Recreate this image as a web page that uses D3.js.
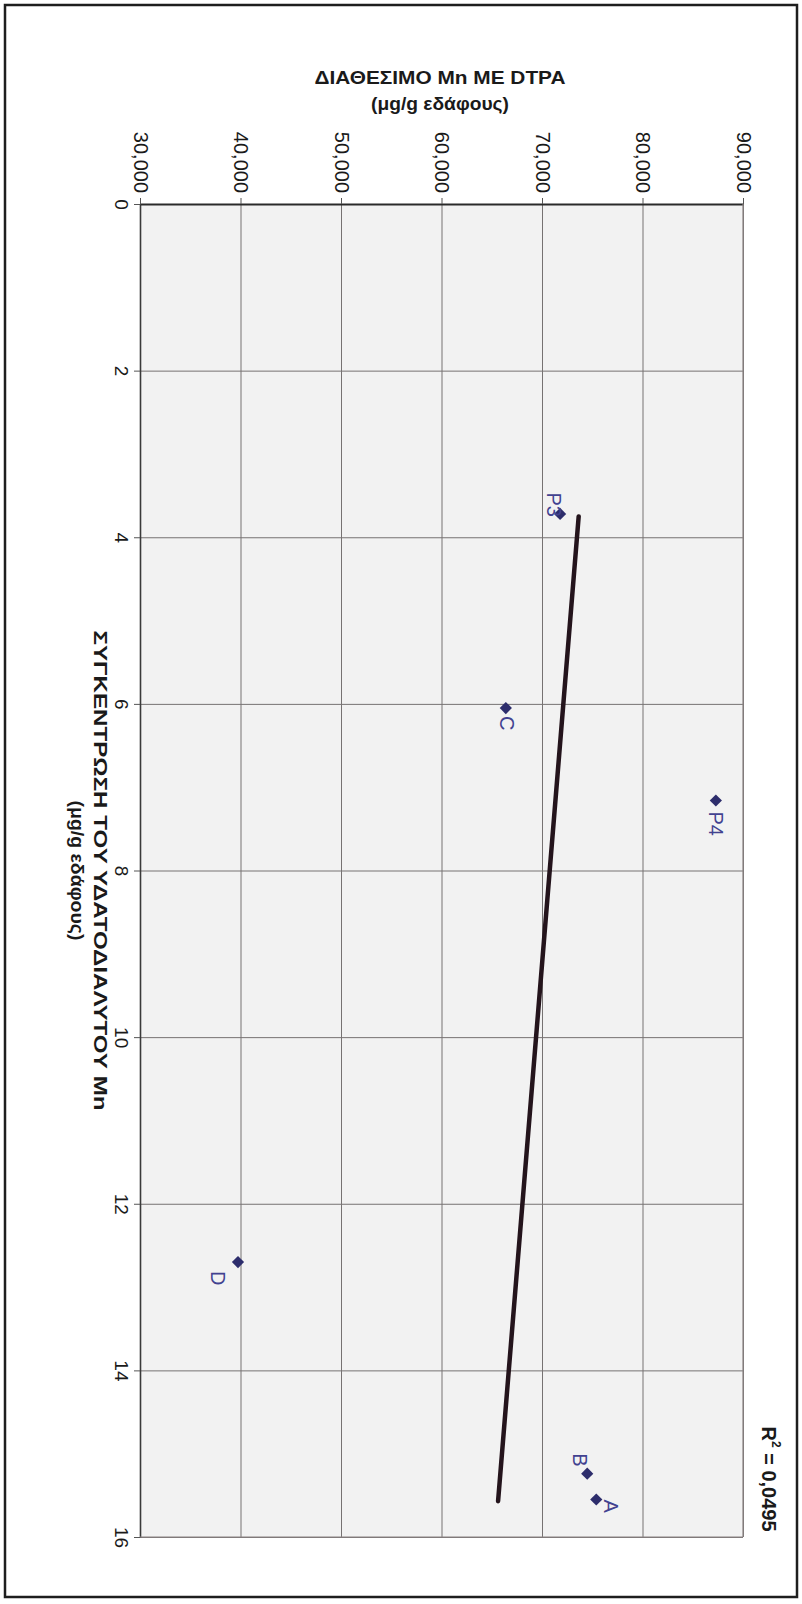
<!DOCTYPE html>
<html>
<head>
<meta charset="utf-8">
<script src="https://cdn.jsdelivr.net/npm/d3@7"></script>
<style>
  html, body { margin: 0; padding: 0; background: #ffffff; }
  svg { display: block; font-family: "Liberation Sans", Arial, sans-serif; }
</style>
</head>
<body>
<svg id="chart" width="802" height="1604"></svg>
<script>
// ---------- DATA ----------
const pointNames = ["P3", "C", "P4", "D", "B", "A"];
const waterSolubleMn = [3.72, 6.05, 7.16, 12.7, 15.24, 15.55];      // horizontal-axis values (drawn vertically)
const dtpaMn = [71800, 66400, 87300, 39750, 74500, 75400];          // vertical-axis values (drawn horizontally)
const trendConc = [3.75, 15.57];
const trendDtpa = [73650, 65630];
const concTicks = [0, 2, 4, 6, 8, 10, 12, 14, 16];
const concTickLabels = ["0", "2", "4", "6", "8", "10", "12", "14", "16"];
const dtpaTicks = [30000, 40000, 50000, 60000, 70000, 80000, 90000];
const dtpaTickLabels = ["30,000", "40,000", "50,000", "60,000", "70,000", "80,000", "90,000"];
const rSquaredText = "0,0495";
const dtpaTitle = ["ΔΙΑΘΕΣΙΜΟ Mn ME DTPA", "(μg/g εδάφους)"];
const concTitle = ["ΣΥΓΚΕΝΤΡΩΣΗ ΤΟΥ ΥΔΑΤΟΔΙΑΛΥΤΟΥ Mn", "(μg/g εδάφους)"];

// ---------- LAYOUT / STYLE ----------
const plot = { left: 140, right: 743, top: 204, bottom: 1537 };
const markerColor = "#2d2d6c";
const labelColor = "#424290";
// label offsets relative to the marker (image px); anchor along reading direction (downwards)
const labelPlace = {
  P3: { dx: -6, dy: 3, anchor: "end" },
  C:  { dx: 1,  dy: 8,  anchor: "start" },
  P4: { dx: 0,  dy: 11, anchor: "start" },
  D:  { dx: -20, dy: 9, anchor: "start" },
  B:  { dx: -7, dy: -7, anchor: "end" },
  A:  { dx: 15, dy: 0, anchor: "start" }
};
const titleLengths = { dtpa: [251, 138], conc: [480, 140] };

const svg = d3.select("#chart");

// concentration -> vertical position, DTPA -> horizontal position (chart is printed rotated)
const conc = d3.scaleLinear().domain([0, 16]).range([plot.top, plot.bottom]);
const dtpa = d3.scaleLinear().domain([30000, 90000]).range([plot.left, plot.right]);

// page border
svg.append("rect")
  .attr("x", 5).attr("y", 5).attr("width", 792).attr("height", 1592)
  .attr("fill", "none").attr("stroke", "#1e1e1e").attr("stroke-width", 2.5);

// plot background
svg.append("rect")
  .attr("x", plot.left).attr("y", plot.top)
  .attr("width", plot.right - plot.left).attr("height", plot.bottom - plot.top)
  .attr("fill", "#f2f2f2");

// gridlines
const gridColor = "#767272";
svg.append("g").attr("transform", `translate(${plot.left},0)`)
  .call(d3.axisLeft(conc).tickValues(concTicks).tickSize(-(plot.right - plot.left)).tickFormat(""))
  .call(g => g.select(".domain").remove())
  .call(g => g.selectAll("line").attr("stroke", gridColor).attr("stroke-width", 1));
svg.append("g").attr("transform", `translate(0,${plot.top})`)
  .call(d3.axisTop(dtpa).tickValues(dtpaTicks).tickSize(-(plot.bottom - plot.top)).tickFormat(""))
  .call(g => g.select(".domain").remove())
  .call(g => g.selectAll("line").attr("stroke", gridColor).attr("stroke-width", 1));

// left axis (concentration) with rotated labels
const leftAxis = svg.append("g").attr("transform", `translate(${plot.left},0)`)
  .call(d3.axisLeft(conc).tickValues(concTicks).tickSize(6).tickSizeOuter(0)
    .tickFormat((d, i) => concTickLabels[i]));
leftAxis.select(".domain").attr("stroke", "#3a3a3a").attr("stroke-width", 1.6);
leftAxis.selectAll(".tick line").attr("stroke", "#555").attr("stroke-width", 1);
leftAxis.selectAll(".tick text")
  .attr("x", null).attr("dy", null)
  .attr("transform", "translate(-19,0) rotate(90)")
  .attr("text-anchor", "middle").attr("dominant-baseline", "central")
  .attr("font-size", 19).attr("fill", "#1a1a1a");

// top axis (DTPA) with rotated labels
const topAxis = svg.append("g").attr("transform", `translate(0,${plot.top})`)
  .call(d3.axisTop(dtpa).tickValues(dtpaTicks).tickSize(6).tickSizeOuter(0)
    .tickFormat((d, i) => dtpaTickLabels[i]));
topAxis.select(".domain").attr("stroke", "#2a2a2a").attr("stroke-width", 2.2);
topAxis.selectAll(".tick line").attr("stroke", "#555").attr("stroke-width", 1);
topAxis.selectAll(".tick text")
  .attr("y", null).attr("dy", null)
  .attr("transform", "translate(0,-11) rotate(90)")
  .attr("text-anchor", "end").attr("dominant-baseline", "central")
  .attr("font-size", 20).attr("fill", "#1a1a1a");

// right & bottom plot borders
svg.append("line").attr("x1", plot.right).attr("x2", plot.right).attr("y1", plot.top).attr("y2", plot.bottom)
  .attr("stroke", "#8a8282").attr("stroke-width", 1.2);
svg.append("line").attr("x1", plot.left).attr("x2", plot.right).attr("y1", plot.bottom).attr("y2", plot.bottom)
  .attr("stroke", "#8a8282").attr("stroke-width", 1.2);

// DTPA axis title (horizontal)
svg.append("g").selectAll("text").data(dtpaTitle).join("text")
  .attr("x", 440).attr("y", (d, i) => 84 + i * 26)
  .attr("text-anchor", "middle").attr("font-weight", "bold").attr("font-size", 19)
  .attr("textLength", (d, i) => titleLengths.dtpa[i]).attr("lengthAdjust", "spacingAndGlyphs")
  .attr("fill", "#1a1a1a").text(d => d);

// concentration axis title (rotated)
svg.append("g").selectAll("text").data(concTitle).join("text")
  .attr("transform", (d, i) => `translate(${100 - i * 23},${(plot.top + plot.bottom) / 2}) rotate(90)`)
  .attr("text-anchor", "middle").attr("dominant-baseline", "central")
  .attr("font-weight", "bold").attr("font-size", 19)
  .attr("textLength", (d, i) => titleLengths.conc[i]).attr("lengthAdjust", "spacingAndGlyphs")
  .attr("fill", "#1a1a1a").text(d => d);

// trend line
const trendData = trendConc.map((c, i) => ({ c, v: trendDtpa[i] }));
svg.append("path").datum(trendData)
  .attr("d", d3.line().x(d => dtpa(d.v)).y(d => conc(d.c)))
  .attr("stroke", "#24141c").attr("stroke-width", 4.5).attr("stroke-linecap", "round").attr("fill", "none");

// points
const pts = pointNames.map((n, i) => ({ n, c: waterSolubleMn[i], v: dtpaMn[i] }));
svg.append("g").selectAll("path").data(pts).join("path")
  .attr("transform", d => `translate(${dtpa(d.v)},${conc(d.c)})`)
  .attr("d", d3.symbol(d3.symbolDiamond2, 95))
  .attr("fill", markerColor);

// point labels (rotated)
svg.append("g").selectAll("text").data(pts).join("text")
  .attr("transform", d => {
    const p = labelPlace[d.n];
    return `translate(${dtpa(d.v) + p.dx},${conc(d.c) + p.dy}) rotate(90)`;
  })
  .attr("text-anchor", d => labelPlace[d.n].anchor)
  .attr("dominant-baseline", "central")
  .attr("font-size", 20).attr("fill", labelColor)
  .text(d => d.n);

// R² annotation (rotated)
const r2 = svg.append("text")
  .attr("transform", `translate(769,1479) rotate(90)`)
  .attr("text-anchor", "middle").attr("dominant-baseline", "central")
  .attr("font-weight", "bold").attr("font-size", 20).attr("fill", "#1a1a1a");
r2.append("tspan").text("R");
r2.append("tspan").attr("font-size", 12).attr("dy", -7).text("2");
r2.append("tspan").attr("dy", 7).text(" = " + rSquaredText);
</script>
</body>
</html>
